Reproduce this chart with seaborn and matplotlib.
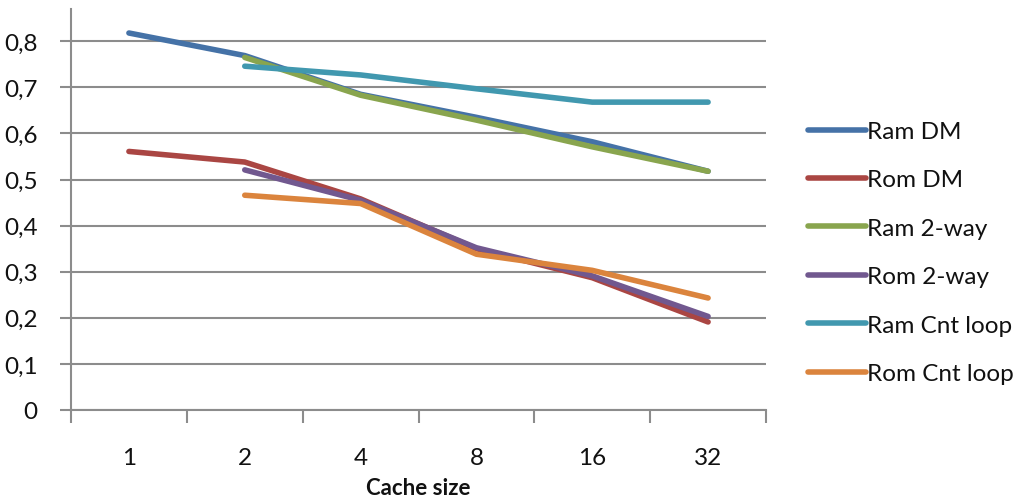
import numpy as np
import pandas as pd
import matplotlib
matplotlib.use("Agg")
import matplotlib.pyplot as plt
from matplotlib.ticker import FuncFormatter, FixedLocator
import seaborn as sns

# Cache sizes (categories on the x axis)
cache_sizes = ["1", "2", "4", "8", "16", "32"]

# Measured ratios per configuration (None = not measured)
ram_dm = [0.818, 0.769, 0.685, 0.635, 0.582, 0.518]
rom_dm = [0.561, 0.538, 0.458, 0.350, 0.287, 0.191]
ram_2way = [None, 0.765, 0.683, 0.629, 0.571, 0.518]
rom_2way = [None, 0.521, 0.455, 0.352, 0.291, 0.203]
ram_cnt_loop = [None, 0.746, 0.727, 0.697, 0.668, 0.668]
rom_cnt_loop = [None, 0.466, 0.448, 0.338, 0.303, 0.243]

series_names = ["Ram DM", "Rom DM", "Ram 2-way", "Rom 2-way", "Ram Cnt loop", "Rom Cnt loop"]
series_values = [ram_dm, rom_dm, ram_2way, rom_2way, ram_cnt_loop, rom_cnt_loop]
colors = ["#4572A7", "#AA4643", "#89A54E", "#71588F", "#4198AF", "#DB843D"]

rows = []
for name, vals in zip(series_names, series_values):
    for i, v in enumerate(vals):
        if v is not None:
            rows.append({"pos": i, "value": v, "series": name})
df = pd.DataFrame(rows)

sns.set_theme(style="white")
plt.rcParams["font.family"] = ["Lato", "DejaVu Sans"]

fig = plt.figure(figsize=(10.26, 5.02), dpi=100)
ax = fig.add_axes([0.0692, 0.1813, 0.6774, 0.7987])

grid_c = "#8c8c8c"
lw = 4.0
fs = 17.5
sns.lineplot(data=df, x="pos", y="value", hue="series", hue_order=series_names,
             palette=colors, linewidth=lw, ax=ax, legend=True,
             solid_capstyle="round", solid_joinstyle="round", zorder=3)

ax.set_xlim(-0.5, 5.5)
ax.set_ylim(0, 0.87)

# y axis: gridlines every 0.1 with comma decimals
yt = np.round(np.arange(0, 0.81, 0.1), 1)
ax.set_yticks(yt)
ax.yaxis.set_major_formatter(FuncFormatter(lambda v, p: "0" if v == 0 else f"{v:.1f}".replace(".", ",")))
ax.grid(axis="y", color=grid_c, linewidth=1.5, zorder=0)
ax.set_axisbelow(True)

# x axis: labels at category centres, tick marks on category boundaries
ax.set_xticks(range(len(cache_sizes)))
ax.set_xticklabels(cache_sizes)
ax.xaxis.set_minor_locator(FixedLocator(np.arange(-0.5, 5.6, 1.0)))
ax.tick_params(axis="x", which="major", length=0, pad=27, labelsize=fs, labelcolor="#111111")
ax.tick_params(axis="x", which="minor", length=9, width=1.5, color=grid_c, direction="out", bottom=True)
ax.tick_params(axis="y", which="major", length=8, width=1.5, color=grid_c, direction="out",
               left=True, pad=16, labelsize=fs, labelcolor="#111111")

for s in ["top", "right"]:
    ax.spines[s].set_visible(False)
for s in ["left", "bottom"]:
    ax.spines[s].set_color(grid_c)
    ax.spines[s].set_linewidth(1.5)

ax.set_ylabel("")
ax.set_xlabel("Cache size", fontsize=16, fontweight="bold", color="#111111", labelpad=6)

leg = ax.legend(loc="upper left", bbox_to_anchor=(1.047, 0.745), frameon=False,
                fontsize=fs, handlelength=2.35, handletextpad=0.05,
                labelspacing=1.13, borderaxespad=0)
for h in leg.get_lines():
    h.set_linewidth(lw)
    h.set_solid_capstyle("round")
for t in leg.get_texts():
    t.set_color("#111111")

fig.savefig("out.png", dpi=100)
